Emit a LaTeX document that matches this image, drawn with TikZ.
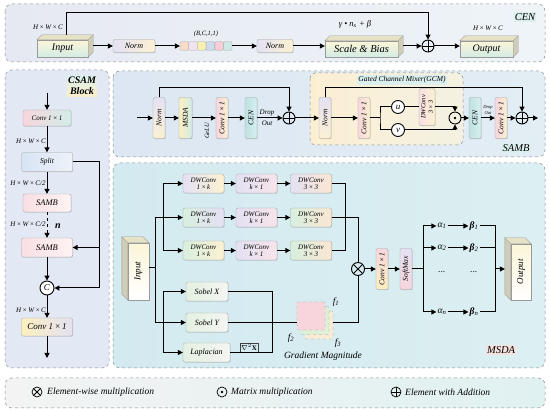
\documentclass[tikz,border=0pt]{standalone}
\usepackage{graphicx}
\usepackage{fontspec}
\setmainfont{Liberation Serif}
\usetikzlibrary{arrows.meta,calc,shadows}
\newcommand\myfs[2]{\fontsize{#1}{#2}\selectfont}
\definecolor{cenL}{HTML}{E6E9F2}
\definecolor{cenR}{HTML}{EEF4F8}
\definecolor{csamC}{HTML}{E3E9F4}
\definecolor{sambL}{HTML}{DCE7F3}
\definecolor{sambR}{HTML}{E2EDF4}
\definecolor{msdaL}{HTML}{D3EAF0}
\definecolor{msdaR}{HTML}{DCEFF2}
\definecolor{gcmL}{HTML}{FBEFD3}
\definecolor{gcmR}{HTML}{F4F1E2}
\definecolor{legL}{HTML}{F3F3F3}
\definecolor{legR}{HTML}{E0F1F1}
\definecolor{lav}{HTML}{E4E1F3}
\definecolor{cream}{HTML}{FCF1D2}
\definecolor{pinkA}{HTML}{F7D6DD}
\definecolor{tealA}{HTML}{D2EDE8}
\definecolor{blueA}{HTML}{D8E4F4}
\definecolor{blueB}{HTML}{EEF2F9}
\definecolor{pinkB}{HTML}{F9DFE3}
\definecolor{pinkC}{HTML}{FDF3F3}
\definecolor{yelA}{HTML}{FCEFC0}
\definecolor{yelB}{HTML}{FBEFCF}
\definecolor{tealB}{HTML}{BDE2E2}
\definecolor{tealC}{HTML}{D8EFEF}
\definecolor{greenA}{HTML}{D8EFDF}
\definecolor{peachA}{HTML}{FBE6D3}
\definecolor{pinkD}{HTML}{F7E3EA}
\definecolor{cubeF1}{HTML}{FBF5D8}
\definecolor{cubeF2}{HTML}{D3ECE4}
\definecolor{cubeTop}{HTML}{E6E2C6}
\definecolor{cubeSide}{HTML}{CFCDB8}
\definecolor{tagT}{HTML}{DCEFEF}
\definecolor{tagY}{HTML}{FBEFC8}
\definecolor{tagP}{HTML}{F5E2DE}
\definecolor{sqA}{HTML}{F8DCC8}
\definecolor{sqB}{HTML}{F1E4F0}
\definecolor{sqC}{HTML}{F8F0B0}
\definecolor{sqD}{HTML}{CDDCEF}
\definecolor{sqE}{HTML}{F6CDD8}
\definecolor{sqF}{HTML}{CFE9E9}
\definecolor{gbL}{HTML}{E4F1E2}
\definecolor{gbR}{HTML}{F4F5F1}
\definecolor{stP}{HTML}{F8D5DC}
\definecolor{stG}{HTML}{DFF0D8}
\definecolor{stY}{HTML}{F8ECD5}
\begin{document}
\begin{tikzpicture}[x=1pt,y=-1pt,
  ln/.style={line width=1pt},
  arr/.style={line width=1pt,-{Triangle[length=5pt,width=5pt]}},
  box/.style={draw=black!35, line width=0.3pt, rounded corners=2pt, inner sep=0pt, align=center,
    font=\myfs{7}{8}\itshape,
    drop shadow={shadow xshift=0.7pt, shadow yshift=-0.7pt, opacity=0.3, fill=black!50}},
  vbox/.style={box, minimum width=12, minimum height=41, font=\myfs{7.5}{8}\itshape},
  dwb/.style={box, minimum width=41, minimum height=19, font=\myfs{7}{7.5}\itshape},
  gb/.style={box, minimum width=42, minimum height=19, font=\myfs{8}{9}\itshape, left color=gbL, right color=gbR},
  cube/.style={draw=black!40, line width=0.3pt, inner sep=0pt, font=\myfs{10}{12}\itshape},
  cubeface/.style={draw=black!40, line width=0.3pt},
  panel/.style={draw=black!45, dashed, line width=0.5pt, rounded corners=7pt},
  tag/.style={inner sep=1.2pt, font=\myfs{10.5}{12}\itshape},
  lbl/.style={inner sep=0pt, font=\myfs{7}{8}\itshape},
  sq/.style={draw=black!35, line width=0.3pt, minimum size=8.5, inner sep=0pt, rounded corners=1pt},
  stk/.style={draw=black!40, dashed, line width=0.3pt, minimum size=28, inner sep=0pt, rounded corners=1pt},
  op/.style={circle, draw, line width=0.9pt, minimum size=12, inner sep=0pt},
  oplus/.style={op, path picture={\draw[line width=0.9pt] (path picture bounding box.north) -- (path picture bounding box.south) (path picture bounding box.west) -- (path picture bounding box.east);}},
  otimes/.style={op, path picture={\draw[line width=0.9pt] (path picture bounding box.north west) -- (path picture bounding box.south east) (path picture bounding box.north east) -- (path picture bounding box.south west);}},
  odot/.style={op, path picture={\fill (path picture bounding box.center) circle (1.3pt);}},
  opc/.style={op, fill=white, font=\myfs{9}{10}\itshape},
  gr/.style={inner sep=1pt, font=\myfs{9.5}{10}\itshape},
  leg/.style={inner sep=0pt, anchor=west, font=\myfs{9.5}{10}\itshape}
]
\useasboundingbox (0,0) rectangle (550,411);
\fill[white] (0,0) rectangle (550,411);

% ================= CEN =================
\path[panel, left color=cenL, right color=cenR] (5,4) rectangle (545,62);
\node[tag, fill=tagT] (cenlab) at (525,17) {CEN};

\node[cube, minimum width=51, minimum height=17, top color=cubeF1, bottom color=cubeF2] (cin) at (62.5,48.5) {Input};
\path[cubeface, fill=cubeTop] (cin.north west) -- ++(5,-5) -- ($(cin.north east)+(5,-5)$) -- (cin.north east) -- cycle;
\path[cubeface, fill=cubeSide] (cin.north east) -- ++(5,-5) -- ($(cin.south east)+(5,-5)$) -- (cin.south east) -- cycle;
\node[lbl] (cinl) at (48,27) {H\,×\,W\,×\,C};

\node[box, minimum width=42, minimum height=13, left color=lav, right color=cream, font=\myfs{8}{9}\itshape] (n1) at (134,46) {Norm};
\node[sq, fill=sqA] (sq1) at (184.3,46) {};
\node[sq, fill=sqB] (sq2) at (193.0,46) {};
\node[sq, fill=sqC] (sq3) at (201.7,46) {};
\node[sq, fill=sqD] (sq4) at (210.4,46) {};
\node[sq, fill=sqE] (sq5) at (219.1,46) {};
\node[sq, fill=sqF] (sq6) at (227.8,46) {};
\node[lbl, font=\myfs{6.5}{7}\itshape] (bcl) at (206,34) {(B,C,1,1)};
\node[box, minimum width=36, minimum height=13, left color=lav, right color=cream, font=\myfs{8}{9}\itshape] (n2) at (275,46) {Norm};

\node[cube, minimum width=73, minimum height=16, top color=cubeF1, bottom color=cubeF2, font=\myfs{10.5}{12}\itshape] (sb) at (361.5,49) {Scale \& Bias};
\path[cubeface, fill=cubeTop] (sb.north west) -- ++(5,-5) -- ($(sb.north east)+(5,-5)$) -- (sb.north east) -- cycle;
\path[cubeface, fill=cubeSide] (sb.north east) -- ++(5,-5) -- ($(sb.south east)+(5,-5)$) -- (sb.south east) -- cycle;
\node[lbl, font=\myfs{8.5}{9}\itshape] (sbl) at (355,24) {γ • n\textsubscript{x} + β};

\node[oplus] (p1) at (428,46) {};

\node[cube, minimum width=53, minimum height=16, top color=cubeF1, bottom color=cubeF2] (cout) at (486.5,49) {Output};
\path[cubeface, fill=cubeTop] (cout.north west) -- ++(5,-5) -- ($(cout.north east)+(5,-5)$) -- (cout.north east) -- cycle;
\path[cubeface, fill=cubeSide] (cout.north east) -- ++(5,-5) -- ($(cout.south east)+(5,-5)$) -- (cout.south east) -- cycle;
\node[lbl] (coutl) at (488,28) {H\,×\,W\,×\,C};

\draw[arr] ($(cin.east)+(5,-2.5)$) -- (n1.west);
\draw[arr] (n1.east) -- (sq1.west);
\draw[arr] (sq6.east) -- (n2.west);
\draw[arr] (n2.east) -- (n2.east -| sb.west);
\draw[arr] ($(p1 -| sb.east)+(5,0)$) -- (p1.west);
\draw[arr] (p1.east) -- (p1.east -| cout.west);
\draw[arr] ($(cin.north)+(4,-5)$) -- ++(0,-22) -| (p1.north);

% ================= CSAM =================
\path[panel, fill=csamC] (5,70) rectangle (109,368);
\node[tag, top color=tagT, bottom color=tagY, align=center, font=\myfs{10}{11}\bfseries\itshape] (cslab) at (82,86) {CSAM\\Block};
\coordinate (cs0) at (47,93);
\node[box, minimum width=48, minimum height=16, left color=pinkA, right color=tealA] (c1) at (47,118) {Conv 1\,×\,1};
\node[lbl] (l1) at (31,141) {H\,×\,W\,×\,C};
\node[box, minimum width=51, minimum height=19, left color=blueA, right color=blueB, font=\myfs{7.5}{8}\itshape] (spl) at (47,162) {Split};
\node[lbl] (l2) at (28,183) {H\,×\,W\,×\,C/2};
\node[box, minimum width=48, minimum height=18, left color=pinkB, right color=pinkC, font=\myfs{8.5}{9}\itshape] (sa1) at (47,203) {SAMB};
\node[lbl] (l3) at (28,224) {H\,×\,W\,×\,C/2};
\node[inner sep=0pt, font=\myfs{10}{11}\bfseries\itshape] (nl) at (58,226) {n};
\node[box, minimum width=51, minimum height=19, left color=pinkB, right color=pinkC, font=\myfs{8.5}{9}\itshape] (sa2) at (47,247.5) {SAMB};
\node[opc, minimum size=14] (cc) at (47,288) {C};
\node[lbl] (l4) at (31,310) {H\,×\,W\,×\,C};
\node[box, minimum width=51, minimum height=18, left color=yelA, right color=lav, font=\myfs{9}{10}\itshape] (c2) at (47,327) {Conv 1\,×\,1};
\coordinate (cs1) at (47,358);
\coordinate (sr) at (99,162);
\draw[arr] (cs0) -- (c1.north);
\draw[arr] (c1.south) -- (spl.north);
\draw[arr] (spl.south) -- (sa1.north);
\draw[arr, dashed] (sa1.south) -- (sa2.north);
\draw[arr] (sa2.south) -- (cc.north);
\draw[arr] (cc.south) -- (c2.north);
\draw[arr] (c2.south) -- (cs1);
\draw[ln] (spl.east) -- (sr) -- (sr |- cc);
\draw[arr] (sr |- sa2) -- (sa2.east);
\draw[arr] (sr |- cc) -- (cc.east);

% ================= SAMB =================
\path[panel, left color=sambL, right color=sambR] (113,71) rectangle (545,157);
\path[panel, rounded corners=5pt, left color=gcmL, right color=gcmR] (310,73) rectangle (463,145);
\node[tag, fill=tagT, font=\myfs{7.5}{8}\itshape] (gcml) at (402,80) {Gated Channel Mixer(GCM)};
\node[tag, fill=tagT] (sambl) at (516,148) {SAMB};

\coordinate (s0) at (137,118);
\node[vbox, top color=lav, bottom color=cream] (sn1) at (159,118) {\rotatebox{90}{Norm}};
\node[vbox, minimum width=13, left color=yelA, right color=tealA] (sms) at (185.5,118) {\rotatebox{90}{MSDA}};
\node[vbox, left color=pinkA, right color=yelB] (sc1) at (222,118) {\rotatebox{90}{Conv 1\,×\,1}};
\node[vbox, left color=tealB, right color=tealC] (sce) at (251,118) {\rotatebox{90}{CEN}};
\node[oplus] (sp1) at (289,118) {};
\node[lbl, font=\myfs{6.5}{7}\itshape] (gelu) at (207,131) {\rotatebox{90}{GeLU}};
\node[lbl] (dr1) at (267,112.5) {Drop};
\node[lbl] (ou1) at (267,123.5) {Out};

\node[vbox, top color=lav, bottom color=cream] (gn) at (325,118) {\rotatebox{90}{Norm}};
\node[vbox, left color=pinkA, right color=yelB] (gc1) at (364,118) {\rotatebox{90}{Conv 1\,×\,1}};
\coordinate (gs) at (380,118);
\node[opc, minimum size=13] (gu) at (398,107) {u};
\node[opc, minimum size=13] (gv) at (398,130) {v};
\node[box, minimum width=16, minimum height=37, left color=pinkB, right color=cream, font=\myfs{6.5}{7}\itshape] (gdw) at (427,107) {\rotatebox{90}{\shortstack{DWConv\\3\,×\,3}}};
\node[odot] (gd) at (455,118) {};
\node[vbox, left color=tealB, right color=tealC] (gce) at (475,118) {\rotatebox{90}{CEN}};
\node[lbl, font=\myfs{4.5}{5}\itshape] (dr2) at (488,108) {Drop};
\node[lbl, font=\myfs{4.5}{5}\itshape] (ou2) at (488,113.5) {Out};
\node[vbox, left color=pinkA, right color=yelB] (gc2) at (501,118) {\rotatebox{90}{Conv 1\,×\,1}};
\node[oplus] (sp2) at (522,118) {};
\coordinate (se) at (538,118);

\draw[arr] (s0) -- (sn1.west);
\draw[arr] (sn1.east) -- (sms.west);
\draw[arr] (sms.east) -- (sc1.west);
\draw[arr] (sc1.east) -- (sce.west);
\draw[arr] (sce.east) -- (sp1.west);
\draw[arr] (sn1.north) -- ++(0,-10) -| (sp1.north);
\draw[arr] (sp1.east) -- (gn.west);
\draw[arr] (gn.north) -- ++(0,-9.5) -| (sp2.north);
\draw[arr] (gn.east) -- (gc1.west);
\draw[ln] (gc1.east) -- (gs);
\draw[ln] (gu.west) -| (gs) |- (gv.west);
\draw[ln] (gu.east) -- (gdw.west);
\draw[arr] (gdw.east) -| (gd.north);
\draw[arr] (gv.east) -| (gd.south);
\draw[arr] (gd.east) -- (gce.west);
\draw[arr] (gce.east) -- (gc2.west);
\draw[arr] (gc2.east) -- (sp2.west);
\draw[arr] (sp2.east) -- (se);

% ================= MSDA =================
\path[panel, left color=msdaL, right color=msdaR] (113,163) rectangle (545,368);
\node[tag, fill=tagP] (msdal) at (501,350) {MSDA};

\node[cube, minimum width=21, minimum height=57, top color=cubeF1, bottom color=white, font=\myfs{9}{10}\itshape] (mi) at (138.5,271.5) {\rotatebox{90}{Input}};
\path[cubeface, fill=cubeTop] (mi.north west) -- ++(-6,-6) -- ($(mi.north east)+(-6,-6)$) -- (mi.north east) -- cycle;
\path[cubeface, fill=cubeSide] (mi.north west) -- ++(-6,-6) -- ($(mi.south west)+(-6,-6)$) -- (mi.south west) -- cycle;

\node[cube, minimum width=20, minimum height=56, top color=cubeF1, bottom color=white, font=\myfs{9}{10}\itshape] (mo) at (521,272) {\rotatebox{90}{Output}};
\path[cubeface, fill=cubeTop] (mo.north west) -- ++(-6,-6) -- ($(mo.north east)+(-6,-6)$) -- (mo.north east) -- cycle;
\path[cubeface, fill=cubeSide] (mo.north west) -- ++(-6,-6) -- ($(mo.south west)+(-6,-6)$) -- (mo.south west) -- cycle;

\node[dwb, left color=lav, right color=cream] (d11) at (203.5,183.5) {DWConv\\1\,×\,k};
\node[dwb, left color=greenA, right color=lav] (d21) at (203.5,217.5) {DWConv\\1\,×\,k};
\node[dwb, left color=greenA, right color=cream] (d31) at (203.5,250.5) {DWConv\\1\,×\,k};
\node[dwb, left color=lav, right color=pinkD] (d12) at (256.5,183.5) {DWConv\\k\,×\,1};
\node[dwb, left color=lav, right color=pinkD] (d22) at (256.5,217.5) {DWConv\\k\,×\,1};
\node[dwb, left color=lav, right color=pinkD] (d32) at (256.5,250.5) {DWConv\\k\,×\,1};
\node[dwb, left color=lav, right color=peachA] (d13) at (311,183.5) {DWConv\\3\,×\,3};
\node[dwb, left color=greenA, right color=peachA] (d23) at (311,217.5) {DWConv\\3\,×\,3};
\node[dwb, left color=greenA, right color=peachA] (d33) at (311,250.5) {DWConv\\3\,×\,3};
\foreach \r in {1,2,3}{
  \draw[arr] (d\r1.east) -- (d\r2.west);
  \draw[arr] (d\r2.east) -- (d\r3.west);
}

\node[gb] (sx) at (207,291.5) {Sobel X};
\node[gb] (sy) at (207,322.5) {Sobel Y};
\node[gb, minimum width=47] (lap) at (206.5,352.5) {Laplacian};
\node[draw=black!75, line width=0.4pt, inner sep=1pt, minimum height=9, anchor=south, font=\myfs{7}{8}] (nab) at (249,352.5) {$\nabla^{2}\mathbf{X}$};

\node[stk, fill=stY] (s3) at (319,325) {};
\node[stk, fill=stG] (s2) at (315,320.5) {};
\node[stk, fill=stP] (s1) at (311,316) {};
\node[gr] (f1) at (336,302) {f\textsubscript{1}};
\node[gr] (f2) at (291,338) {f\textsubscript{2}};
\node[gr] (f3) at (338,343) {f\textsubscript{3}};
\node[gr] (gml) at (323,356) {Gradient Magnitude};

\node[otimes, minimum size=13] (mul) at (358,269) {};
\node[vbox, top color=pinkA, bottom color=yelA] (mc) at (382,269) {\rotatebox{90}{Conv 1\,×\,1}};
\node[vbox, top color=lav, bottom color=pinkA] (ms) at (406,269) {\rotatebox{90}{SoftMax}};

\node[gr] (a1) at (442,226) {α\textsubscript{1}};
\node[gr] (a2) at (442,248) {α\textsubscript{2}};
\node[gr] (ad) at (442,272) {...};
\node[gr] (an) at (442,312) {α\textsubscript{n}};
\node[gr] (b1) at (474,226) {\textbf{β}\textsubscript{1}};
\node[gr] (b2) at (474,248) {\textbf{β}\textsubscript{2}};
\node[gr] (bd) at (474,272) {...};
\node[gr] (bn) at (474,312) {\textbf{β}\textsubscript{n}};

\coordinate (ja) at (155,268);
\coordinate (jb) at (163,0);
\coordinate (jc) at (345,0);
\coordinate (je) at (272,0);
\coordinate (jf) at (423,0);
\coordinate (jg) at (495,0);

\draw[ln] (mi.east |- ja) -- (ja);
\draw[ln] (ja |- d21) -- (ja |- sy);
\draw[arr] (ja |- d21) -- (d21.west);
\draw[ln] (jb |- d11) -- (jb |- d31);
\draw[arr] (jb |- d11) -- (d11.west);
\draw[arr] (jb |- d31) -- (d31.west);
\draw[arr] (ja |- sy) -- (sy.west);
\draw[ln] (jb |- sx) -- (jb |- lap);
\draw[arr] (jb |- sx) -- (sx.west);
\draw[arr] (jb |- lap) -- (lap.west);

\draw[ln] (sx.east) -| (je |- lap) -- (lap.east);
\draw[ln] (sy.east) -- (sy.east -| s1.west);
\draw[ln] (s3.east |- sy) -| (mul.south);

\draw[ln] (d13.east) -| (jc |- d33) -- (d33.east);
\draw[ln] (d23.east) -| (mul.north);

\draw[arr] (mul.east) -- (mc.west);
\draw[arr] (mc.east) -- (ms.west);
\draw[ln] (ms.east) -- (jf |- ms);
\draw[ln] (jf |- a1) -- (jf |- an);
\draw[arr] (jf |- a1) -- (a1.west);
\draw[arr] (jf |- a2) -- (a2.west);
\draw[arr] (jf |- an) -- (an.west);
\draw[arr] (a1.east) -- (b1.west);
\draw[arr] (a2.east) -- (b2.west);
\draw[arr] (an.east) -- (bn.west);
\draw[ln] (b1.east) -- (jg |- b1) -- (jg |- bn) -- (bn.east);
\draw[ln] (b2.east) -- (jg |- b2);
\draw[arr] (jg |- ms) -- ($(mo.west |- ms)+(-6,0)$);

% ================= Legend =================
\path[panel, left color=legL, right color=legR] (5,378) rectangle (545,408);
\node[otimes, minimum size=10, line width=0.7pt] (lg1) at (37,392) {};
\node[leg] (lt1) at (47,392) {Element-wise multiplication};
\node[odot, minimum size=10, line width=0.7pt] (lg2) at (222,392) {};
\node[leg] (lt2) at (231,392) {Matrix multiplication};
\node[oplus, minimum size=10, line width=0.7pt] (lg3) at (396,392) {};
\node[leg] (lt3) at (405,392) {Element with Addition};
\end{tikzpicture}
\end{document}
